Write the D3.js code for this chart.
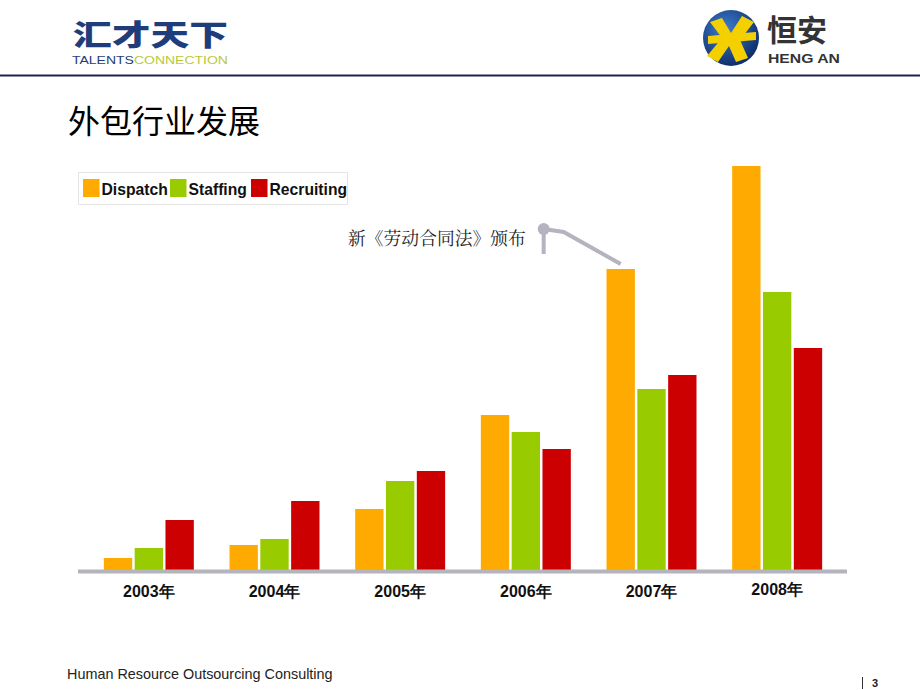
<!DOCTYPE html>
<html>
<head>
<meta charset="utf-8">
<script src="https://cdn.jsdelivr.net/npm/d3@7"></script>
<style>
  body { margin: 0; background: #fff; }
  svg { display: block; }
</style>
</head>
<body>
<div id="chart"></div>
<script>
// data
const years = ["2003年", "2004年", "2005年", "2006年", "2007年", "2008年"]
const seriesNames = ["Dispatch", "Staffing", "Recruiting"]
const dispatch = [12, 25, 61, 155, 301, 404]
const staffing = [22, 31, 89, 138, 181, 278]
const recruiting = [50, 69, 99, 121, 195, 222]
const colors = ["#FFAA00", "#99CC00", "#CC0000"]
const note = "新《劳动合同法》颁布"

const width = 920
const height = 690
const cjk = "'Noto Sans CJK SC', sans-serif"
const arial = "'Liberation Sans', Arial, sans-serif"

const svg = d3.select("#chart").append("svg")
    .attr("width", width)
    .attr("height", height)

// header: logos + rule
const left = svg.append("g")
left.append("text")
    .attr("x", 73).attr("y", 46)
    .attr("textLength", 155).attr("lengthAdjust", "spacingAndGlyphs")
    .attr("font-family", cjk).attr("font-weight", 900).attr("font-size", 29)
    .attr("fill", "#1f3d7a")
    .text("汇才天下")
const tl = left.append("text")
    .attr("x", 72).attr("y", 64)
    .attr("font-family", arial).attr("font-size", 10)
    .attr("textLength", 156).attr("lengthAdjust", "spacingAndGlyphs")
tl.append("tspan").attr("fill", "#1f3d7a").text("TALENTS")
tl.append("tspan").attr("fill", "#b8c83c").text("CONNECTION")

const right = svg.append("g")
const grad = svg.append("defs").append("radialGradient")
    .attr("id", "globe").attr("cx", "40%").attr("cy", "35%").attr("r", "70%")
grad.append("stop").attr("offset", "0%").attr("stop-color", "#3f7fd0")
grad.append("stop").attr("offset", "100%").attr("stop-color", "#0b2a66")
right.append("circle").attr("cx", 731).attr("cy", 38).attr("r", 28).attr("fill", "url(#globe)")
right.append("path")
    .attr("d", "M710,22 L722,18 L731,33 L742,16 L754,22 L740,40 L748,58 L736,62 L729,46 L718,62 L707,56 L722,38 Z")
    .attr("fill", "#f5d000")
right.append("path")
    .attr("d", "M708,36 L756,32 L756,40 L708,44 Z")
    .attr("fill", "#f5d000")
right.append("text")
    .attr("x", 767).attr("y", 41)
    .attr("font-family", cjk).attr("font-weight", 700).attr("font-size", 30)
    .attr("fill", "#333")
    .text("恒安")
right.append("text")
    .attr("x", 768).attr("y", 63)
    .attr("textLength", 72).attr("lengthAdjust", "spacingAndGlyphs")
    .attr("font-family", arial).attr("font-weight", 700).attr("font-size", 12.5)
    .attr("fill", "#333")
    .text("HENG AN")

svg.append("rect").attr("x", 0).attr("y", 74.5).attr("width", width).attr("height", 2).attr("fill", "#1a2550")

// title
svg.append("text")
    .attr("x", 68).attr("y", 133)
    .attr("font-family", cjk).attr("font-size", 32)
    .attr("fill", "#000")
    .text("外包行业发展")

// scales
const baseline = 570
const x = d3.scaleBand()
    .domain(years)
    .range([86, 840])
    .paddingInner(0.284)
    .paddingOuter(0.142)
const xs = d3.scaleBand()
    .domain(seriesNames)
    .range([0, x.bandwidth()])
    .paddingInner(0.08)
const y = d3.scaleLinear()
    .domain([0, 450])
    .range([baseline, baseline - 450])

const rows = years.map((yr, i) => ({
    year: yr,
    values: [dispatch[i], staffing[i], recruiting[i]].map((v, j) => ({ name: seriesNames[j], value: v, color: colors[j] }))
}))

// bars
const groups = svg.append("g").selectAll("g")
    .data(rows)
    .join("g")
    .attr("transform", d => `translate(${x(d.year)},0)`)
groups.selectAll("rect")
    .data(d => d.values)
    .join("rect")
    .attr("x", d => xs(d.name))
    .attr("y", d => y(d.value))
    .attr("width", xs.bandwidth())
    .attr("height", d => y(0) - y(d.value))
    .attr("fill", d => d.color)

// axis line + year labels
const xAxis = svg.append("g").attr("transform", `translate(0,${baseline})`)
    .call(d3.axisBottom(x).tickSize(0).tickPadding(15).tickSizeOuter(0))
xAxis.select(".domain").remove()
xAxis.append("rect").attr("x", 78).attr("y", -0.5).attr("width", 769).attr("height", 4).attr("fill", "#b4b4bc")
xAxis.selectAll(".tick text")
    .attr("font-family", arial).attr("font-weight", 700).attr("font-size", 16)
    .attr("fill", "#111")
    .attr("dy", (d, i) => i === 5 ? "0.6em" : "0.72em")

// legend
const legend = svg.append("g")
legend.append("rect")
    .attr("x", 78.5).attr("y", 172.5).attr("width", 269).attr("height", 32)
    .attr("fill", "none").attr("stroke", "#c8c8c8").attr("stroke-dasharray", "1,1")
const lx = [83, 170, 251]
seriesNames.forEach((n, i) => {
    legend.append("rect").attr("x", lx[i]).attr("y", 179).attr("width", 16.5).attr("height", 18).attr("fill", colors[i])
    legend.append("text")
        .attr("x", lx[i] + 18.5).attr("y", 195)
        .attr("font-family", arial).attr("font-weight", 700).attr("font-size", 15.7)
        .attr("fill", "#111")
        .text(n)
})

// annotation for 2007 dispatch bar
const ax = x("2007年") + xs("Dispatch") + xs.bandwidth() / 2
const ay = y(dispatch[4]) - 5
const ann = svg.append("g").attr("stroke", "#b4b4c0").attr("stroke-width", 4).attr("fill", "none")
ann.append("polyline")
    .attr("points", `${ax},${ay} ${ax - 57},${ay - 32} ${ax - 77},${ay - 35}`)
ann.append("line")
    .attr("x1", ax - 77).attr("y1", ay - 35).attr("x2", ax - 77).attr("y2", ay - 10)
svg.append("circle").attr("cx", ax - 77).attr("cy", ay - 35).attr("r", 6).attr("fill", "#b4b4c0")
svg.append("text")
    .attr("x", 348).attr("y", 245)
    .attr("font-family", "'Noto Serif CJK SC', " + cjk).attr("font-size", 17.8)
    .attr("fill", "#222")
    .text(note)

// footer
svg.append("text")
    .attr("x", 67).attr("y", 679)
    .attr("font-family", arial).attr("font-size", 14.4)
    .attr("fill", "#222")
    .text("Human Resource Outsourcing Consulting")
svg.append("line").attr("x1", 862.5).attr("x2", 862.5).attr("y1", 677).attr("y2", 689).attr("stroke", "#333")
svg.append("text")
    .attr("x", 872).attr("y", 687)
    .attr("font-family", arial).attr("font-weight", 700).attr("font-size", 11)
    .attr("fill", "#222")
    .text("3")
</script>
</body>
</html>
